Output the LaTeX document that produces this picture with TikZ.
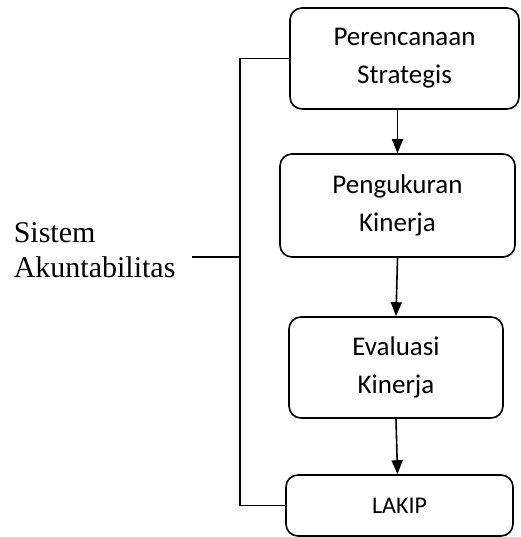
\documentclass[tikz,border=0pt]{standalone}
\usepackage{fontspec}
\setmainfont{Liberation Serif}
\newfontfamily\hurufkotak{Carlito}
\usetikzlibrary{arrows.meta}

\begin{document}
\begin{tikzpicture}[x=1pt,y=-1pt,line width=1.6pt,
		kotak/.style={draw,rounded corners=12pt,align=center,inner sep=0pt,font=\hurufkotak\fontsize{27}{38}\selectfont},
		panah/.style={-{Triangle[width=11pt,length=14pt]}}]
			\useasboundingbox (0,0) rectangle (520,537);
			%Kotak proses
			\node[kotak,minimum width=229pt,minimum height=101pt] (rencana) at (404.5,58.5) {Perencanaan\\Strategis};
			\node[kotak,minimum width=235pt,minimum height=103pt] (ukur) at (397.5,205.5) {Pengukuran\\Kinerja};
			\node[kotak,minimum width=214pt,minimum height=101pt] (evaluasi) at (396,367.5) {Evaluasi\\Kinerja};
			\node[kotak,minimum width=227pt,minimum height=61pt,font=\hurufkotak\fontsize{24}{29}\selectfont] (lakip) at (399.5,505.5) {LAKIP};
			%Panah antar kotak
			\draw[panah] ([xshift=-7pt]rencana.south) -- (ukur.north);
			\draw[panah] (ukur.south) -- (evaluasi.north);
			\draw[panah] (evaluasi.south) -- ([xshift=-2pt]lakip.north);
			%Kurung sistem
			\node[anchor=west,align=left,inner sep=0pt,font=\fontsize{30}{35}\selectfont] (sistem) at (13,250.5) {Sistem\\Akuntabilitas};
			\coordinate (tulang) at (240,0);
			\coordinate (ujung) at (192,257);
			\draw (rencana.west) -| (tulang |- lakip.west) -- (lakip.west);
			\draw (ujung) -- (ujung -| tulang);
		\end{tikzpicture}
\end{document}
